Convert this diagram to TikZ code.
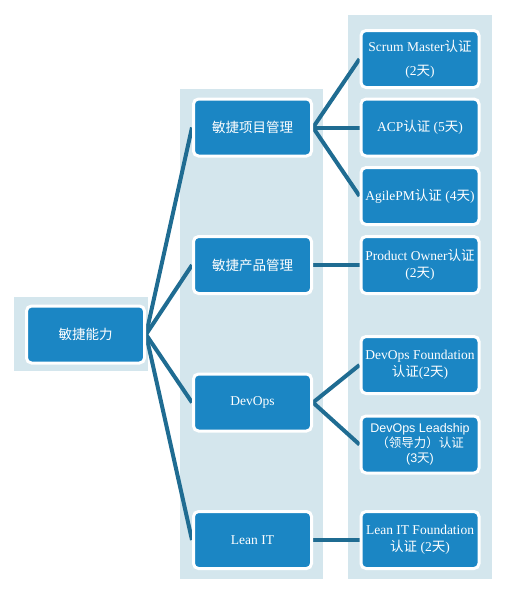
\documentclass[tikz,border=0pt]{standalone}
\usepackage{fontspec}
\setmainfont{Liberation Serif}
\setsansfont{Liberation Sans}
\newfontfamily\cjk{Noto Sans CJK SC}
\usetikzlibrary{backgrounds}
\definecolor{cpanel}{HTML}{D4E6ED}
\definecolor{cbox}{HTML}{1B86C4}
\definecolor{cline}{HTML}{1F6C92}
\newcommand{\zh}[1]{{\cjk #1}}
\tikzset{
  every picture/.style={x=1pt, y=-1pt},
  box/.style={draw=white, fill=cbox, line width=3pt, rounded corners=5pt, minimum width=118pt, minimum height=57pt,
    inner sep=1pt, text=white, align=center, font=\fontsize{13.5}{17}\selectfont},
  link/.style={draw=cline, line width=4pt},
  panel/.style={fill=cpanel},
}

\begin{document}
\begin{tikzpicture}
  \useasboundingbox (0,0) rectangle (506,592);
  \node[box] (root) at (85.5, 334.5) {\zh{敏捷能力}};
  \node[box] (pm) at (252.5, 127.5) {\zh{敏捷项目管理}};
  \node[box] (prod) at (252.5, 265) {\zh{敏捷产品管理}};
  \node[box] (devops) at (252.5, 402.5) {DevOps};
  \node[box] (lean) at (252.5, 540) {Lean IT};
  \node[box] (scrum) at (420, 59) {Scrum Master\zh{认证}\\[7pt](2\zh{天})};
  \node[box] (acp) at (420, 127.5) {ACP\zh{认证} (5\zh{天})};
  \node[box] (agilepm) at (420, 196) {AgilePM\zh{认证} (4\zh{天})};
  \node[box] (po) at (420, 265) {Product Owner\zh{认证}\\(2\zh{天})};
  \node[box] (dof) at (420, 365) {DevOps Foundation\\\zh{认证}(2\zh{天})};
  \node[box, font=\sffamily\fontsize{12.5}{15}\selectfont] (dol) at (420, 444.5)
    {DevOps Leadship\\\zh{（领导力）认证}\\(3\zh{天})};
  \node[box] (leanf) at (420, 540) {Lean IT Foundation\\\zh{认证} (2\zh{天})};
  \begin{scope}[on background layer]
    \fill[panel] (14,297) rectangle (148,371);
    \fill[panel] (180,89) rectangle (323,579);
    \fill[panel] (348,15) rectangle (492,579);
    \foreach \m in {pm, prod, devops, lean}
      \draw[link] (root.east) -- (\m.west);
    \foreach \r in {scrum, acp, agilepm}
      \draw[link] (pm.east) -- (\r.west);
    \draw[link] (prod.east) -- (po.west);
    \foreach \r in {dof, dol}
      \draw[link] (devops.east) -- (\r.west);
    \draw[link] (lean.east) -- (leanf.west);
  \end{scope}
\end{tikzpicture}
\end{document}
